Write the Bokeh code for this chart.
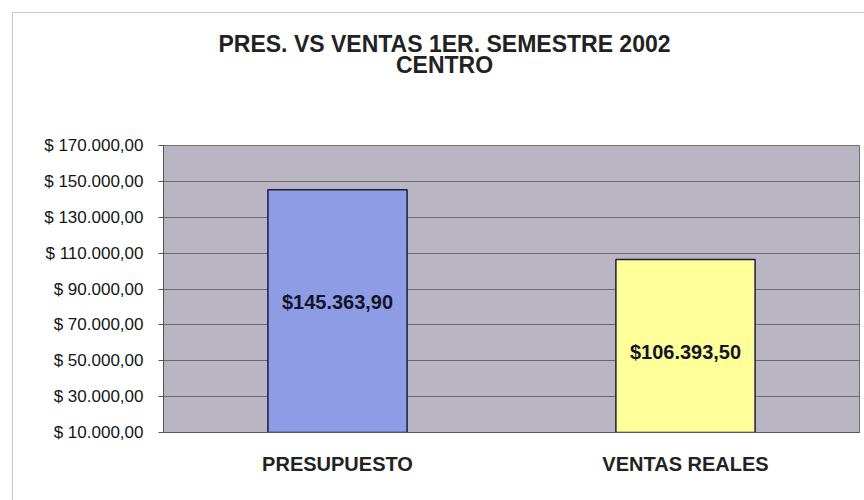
from bokeh.plotting import figure
from bokeh.layouts import column
from bokeh.models import ColumnDataSource, FixedTicker, Label
from bokeh.core.properties import value
from bokeh.embed import file_html
from bokeh.resources import INLINE

# ---- data ----
categories = ["PRESUPUESTO", "VENTAS REALES"]
values = [145363.90, 106393.50]
value_labels = ["$145.363,90", "$106.393,50"]
bar_colors = ["#8e9ce6", "#ffff99"]
tick_values = [10000, 30000, 50000, 70000, 90000, 110000, 130000, 150000, 170000]
tick_labels = ["$ 10.000,00", "$ 30.000,00", "$ 50.000,00", "$ 70.000,00", "$ 90.000,00",
               "$ 110.000,00", "$ 130.000,00", "$ 150.000,00", "$ 170.000,00"]
title_lines = ["PRES. VS VENTAS 1ER. SEMESTRE 2002", "CENTRO"]

y_min, y_max = tick_values[0], tick_values[-1]
FONT = "Liberation Sans"

# ---- title strip ----
tf = figure(width=851, height=122, output_backend="svg", toolbar_location=None,
            x_axis_location=None, y_axis_location=None,
            min_border_left=0, min_border_right=0, min_border_top=0, min_border_bottom=0)
tf.outline_line_color = None
tf.grid.visible = False
tf.border_fill_color = "white"
tf.background_fill_color = "white"
for i, t in enumerate(title_lines):
    tf.add_layout(Label(x=281, y=92 - 21 * i, x_units="screen", y_units="screen", text=t,
                        text_align="center", text_baseline="middle",
                        text_font=FONT, text_font_style="bold", text_font_size="23px",
                        text_color="#222222"))

# ---- main chart ----
label_y = [(y_min + v) / 2 for v in values]
source = ColumnDataSource(dict(cat=categories, val=values, col=bar_colors,
                               txt=value_labels, ly=label_y, yoff=[-9, 6]))

p = figure(x_range=categories, y_range=(y_min, y_max), width=851, height=365,
           output_backend="svg", toolbar_location=None,
           min_border_left=150, min_border_right=5, min_border_top=10, min_border_bottom=68)

p.background_fill_color = "#b9b5c3"
p.border_fill_color = "white"
p.outline_line_color = "#6e6e6e"
p.outline_line_width = 1

p.vbar(x="cat", top="val", bottom=y_min, width=0.4, fill_color="col",
       line_color="#1d1d3a", line_width=1.5, source=source)

p.text(x="cat", y="ly", text="txt", y_offset="yoff", source=source,
       text_align="center", text_baseline="middle",
       text_font=value(FONT), text_font_style="bold", text_font_size="20px",
       text_color="#15152a")

p.yaxis.ticker = FixedTicker(ticks=tick_values)
p.yaxis.major_label_overrides = {t: l for t, l in zip(tick_values, tick_labels)}
p.yaxis.major_label_text_font = FONT
p.yaxis.major_label_text_font_size = "17px"
p.yaxis.major_label_text_color = "#151515"
p.yaxis.major_tick_out = 5
p.yaxis.major_tick_in = 0
p.yaxis.minor_tick_out = 0
p.yaxis.minor_tick_in = 0
p.yaxis.axis_line_color = "#555555"
p.yaxis.major_tick_line_color = "#555555"
p.yaxis.major_label_standoff = 15

p.xaxis.major_label_text_font = FONT
p.xaxis.major_label_text_font_style = "bold"
p.xaxis.major_label_text_font_size = "20px"
p.xaxis.major_label_text_color = "#222222"
p.xaxis.major_tick_out = 0
p.xaxis.major_tick_in = 0
p.xaxis.axis_line_color = "#555555"
p.xaxis.major_label_standoff = 20

p.xgrid.grid_line_color = None
p.ygrid.grid_line_color = "#6a6a70"
p.ygrid.grid_line_width = 1

layout = column(tf, p, spacing=0, margin=(12, 0, 0, 12),
                styles={"border-left": "1px solid #c8c8c8", "border-top": "1px solid #c8c8c8"})

open("out.html", "w").write(file_html(layout, INLINE))
